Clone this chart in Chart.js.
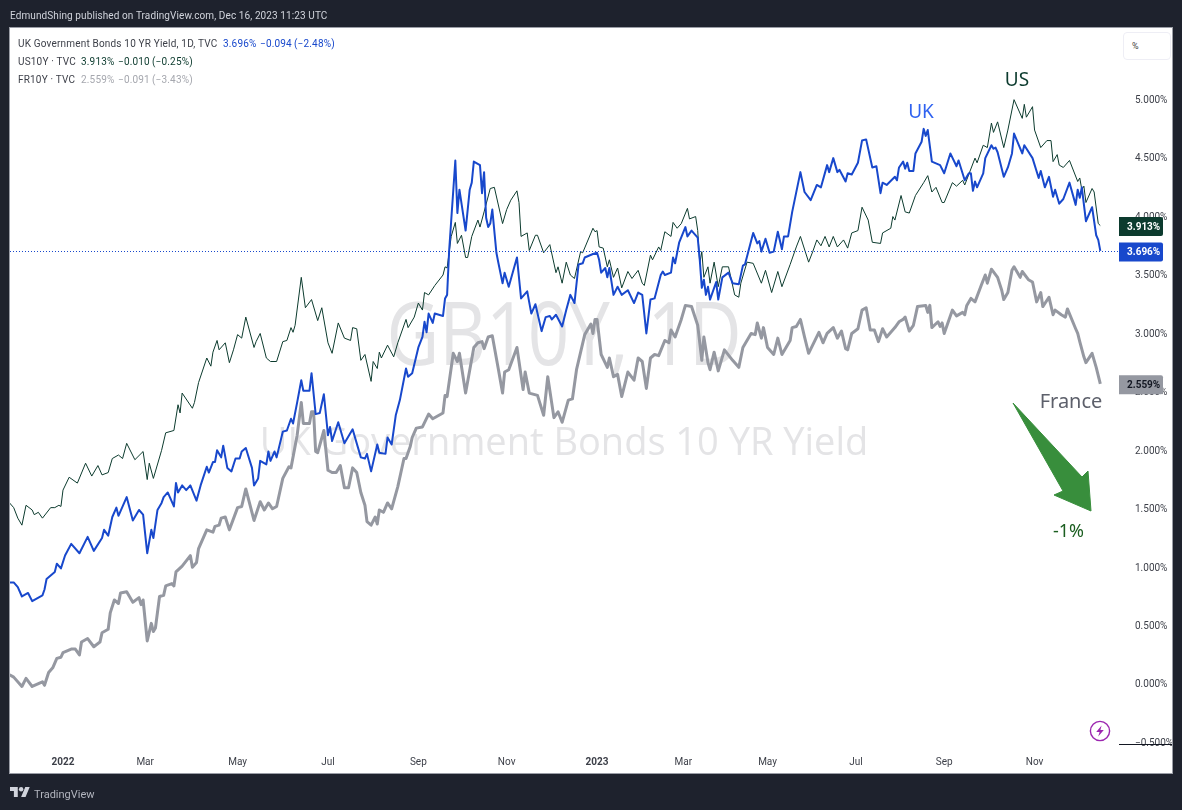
<!DOCTYPE html>
<html>
<head>
<meta charset="utf-8">
<title>UK Government Bonds 10 YR Yield</title>
<script src="https://cdn.jsdelivr.net/npm/chart.js@4"></script>
<style>
  html, body { margin: 0; padding: 0; background: #1e222d; width: 1182px; height: 810px; overflow: hidden; }
  body { position: relative; font-family: Roboto, sans-serif; }
  #panel { position: absolute; left: 9px; top: 27px; width: 1162px; height: 745px; background: #fff; border: 1px solid #9a9da6; }
  #chart { position: absolute; left: 0; top: 0; }
  .txt { position: absolute; white-space: pre; font-size: 10px; line-height: 12px; letter-spacing: 0.18px; }
  .txt span { position: absolute; top: 0; }
  #pct { position: absolute; left: 1123px; top: 32px; width: 46px; height: 26px; border: 1px solid #eeeef5; border-radius: 4px; background: #fff; font-size: 9px; line-height: 26px; color: #444; text-indent: 8px; }
</style>
</head>
<body>
<div id="panel"></div>
<canvas id="chart" width="1182" height="810"></canvas>
<div class="txt" style="left:10px;top:10px;color:#d1d4dc;letter-spacing:0.1px">EdmundShing published on TradingView.com, Dec 16, 2023 11:23 UTC</div>
<div class="txt" style="left:18px;top:38px;color:#3c3f48">UK Government Bonds 10 YR Yield, 1D, TVC<span style="left:205px;color:#1848cc">3.696%</span><span style="left:242px;color:#1848cc">−0.094</span><span style="left:276px;color:#1848cc">(−2.48%)</span></div>
<div class="txt" style="left:18px;top:56px;color:#3c3f48">US10Y · TVC<span style="left:63px;color:#0c3b2e">3.913%</span><span style="left:100px;color:#0c3b2e">−0.010</span><span style="left:134px;color:#0c3b2e">(−0.25%)</span></div>
<div class="txt" style="left:18px;top:74px;color:#3c3f48">FR10Y · TVC<span style="left:63px;color:#a5a7ae">2.559%</span><span style="left:100px;color:#a5a7ae">−0.091</span><span style="left:134px;color:#a5a7ae">(−3.43%)</span></div>
<div id="pct">%</div>
<svg style="position:absolute;left:1089px;top:720px" width="22" height="22" viewBox="0 0 22 22">
  <circle cx="11" cy="11" r="9.6" fill="none" stroke="#9c27b0" stroke-width="1.4"/>
  <path d="M12.6 5.5 L7.2 12 H10.6 L9.2 16.5 L14.8 10 H11.4 Z" fill="#9c27b0"/>
</svg>
<svg style="position:absolute;left:10px;top:786px" width="20" height="12" viewBox="0 3 36 20">
  <path d="M14 22H7V11H0V4h14v18zM28 22h-8l7.5-18h8L28 22z" fill="#d1d4dc"/>
  <circle cx="20" cy="8" r="4" fill="#d1d4dc"/>
</svg>
<div class="txt" style="left:34px;top:789px;color:#b2b5be;font-size:11px;letter-spacing:0">TradingView</div>
<script>
// x is the trading day counted from the first session of 2022
var tickBars = [0, 40, 85, 129, 173, 216, 260, 302, 343, 386, 429, 473];
var tickLabels = ['2022', 'Mar', 'May', 'Jul', 'Sep', 'Nov', '2023', 'Mar', 'May', 'Jul', 'Sep', 'Nov'];
var yTicks = [-0.5, 0, 0.5, 1, 1.5, 2, 2.5, 3, 3.5, 4, 4.5, 5];

var usBars = [-26,-24,-22,-20,-18,-15,-14,-12,-10,-6,-4,-2,-1,0,3,7,11,14,17,19,22,24,27,29,31,35,39,41,42,44,48,50,54,56,57,58,63,64,66,70,72,73,75,76,79,81,83,85,87,89,93,94,96,99,101,104,107,109,111,112,113,116,118,121,124,126,129,131,134,137,140,141,143,145,147,150,151,153,154,155,158,161,163,167,168,171,173,175,176,178,181,185,186,187,189,191,192,194,196,197,199,202,203,205,208,210,214,216,218,221,222,223,226,227,230,231,234,237,240,241,243,245,247,249,252,253,258,259,260,261,263,265,266,268,270,272,275,277,280,282,283,286,287,290,291,293,296,297,299,301,304,305,308,309,310,311,312,314,315,317,319,321,324,327,329,330,333,336,340,342,345,348,350,354,357,359,363,365,367,369,371,373,375,377,380,382,384,387,389,392,394,398,399,403,404,405,408,410,412,415,419,421,423,425,428,429,433,435,438,439,444,445,448,450,452,453,455,458,460,463,467,468,469,472,473,476,479,481,482,484,485,487,490,494,495,496,497,498,501,502,504,505];
var usYields = [1.54,1.50,1.41,1.35,1.52,1.48,1.44,1.46,1.41,1.50,1.50,1.52,1.51,1.65,1.76,1.71,1.88,1.77,1.86,1.78,1.80,1.92,1.95,1.92,2.05,1.91,1.98,1.74,1.88,1.75,1.99,2.14,2.16,2.38,2.31,2.48,2.35,2.40,2.57,2.78,2.71,2.83,2.93,2.85,2.91,2.74,2.85,2.98,2.95,3.13,2.87,2.92,2.99,2.78,2.75,2.75,2.92,2.93,3.04,3.00,3.06,3.47,3.21,3.28,3.10,3.21,2.91,2.82,3.08,2.95,2.93,3.04,3.03,2.76,2.81,2.58,2.75,2.69,2.83,2.78,2.89,2.79,2.91,3.11,3.04,3.13,3.25,3.19,3.34,3.32,3.40,3.49,3.56,3.55,3.82,3.94,3.76,3.83,3.64,3.64,3.82,3.96,3.90,4.03,4.23,4.24,3.93,4.05,4.13,4.21,4.11,3.82,3.85,3.70,3.83,3.83,3.68,3.75,3.51,3.56,3.42,3.60,3.49,3.46,3.69,3.68,3.89,3.86,3.87,3.73,3.72,3.56,3.62,3.47,3.55,3.38,3.52,3.46,3.53,3.42,3.40,3.66,3.62,3.73,3.70,3.86,3.82,3.94,3.89,3.93,4.06,3.97,3.99,3.87,3.59,3.69,3.47,3.56,3.42,3.60,3.39,3.56,3.56,3.32,3.30,3.42,3.60,3.59,3.42,3.53,3.34,3.52,3.39,3.58,3.73,3.82,3.60,3.69,3.79,3.74,3.82,3.73,3.82,3.73,3.79,3.72,3.85,3.87,4.07,3.96,3.77,3.76,3.85,3.89,3.99,3.96,4.17,4.03,4.02,4.17,4.28,4.34,4.20,4.24,4.11,4.11,4.28,4.25,4.30,4.26,4.49,4.45,4.60,4.58,4.79,4.71,4.80,4.58,4.73,4.99,4.83,4.95,4.84,4.93,4.73,4.58,4.64,4.64,4.46,4.52,4.43,4.41,4.47,4.29,4.32,4.22,4.25,4.11,4.23,4.20,3.93,3.913];

var ukBars = [-26,-24,-22,-20,-17,-15,-10,-9,-8,-4,-3,-1,1,4,8,12,15,19,20,22,24,26,27,31,34,37,39,41,43,44,46,48,49,51,54,55,56,58,60,62,65,67,70,71,73,74,75,77,78,80,82,84,86,87,89,92,93,95,96,99,100,101,103,104,107,109,111,112,114,116,117,120,121,123,125,127,129,130,131,134,137,141,145,147,148,150,153,154,157,158,160,162,164,167,168,170,173,175,176,177,178,180,181,185,186,187,188,191,192,193,196,198,199,200,203,204,205,206,207,208,209,211,212,214,215,217,221,223,226,228,230,233,235,237,238,240,243,245,247,249,251,253,254,258,260,261,262,264,265,266,268,270,272,275,278,280,282,284,286,288,291,292,293,296,297,298,300,303,304,306,309,310,311,312,313,314,315,318,319,321,324,326,329,331,332,336,338,339,340,342,344,346,348,350,351,353,355,359,361,364,367,369,372,373,375,377,378,381,382,384,387,389,391,394,396,398,399,401,405,406,407,409,410,411,412,414,415,418,419,420,421,423,427,429,432,435,436,439,441,442,443,444,445,448,449,452,453,454,455,458,460,462,463,467,468,472,475,476,478,480,482,483,485,487,490,493,494,495,496,498,501,503,504,505];
var ukYields = [0.86,0.86,0.82,0.74,0.77,0.70,0.75,0.80,0.89,0.95,1.02,0.98,1.09,1.19,1.11,1.25,1.13,1.24,1.31,1.26,1.42,1.50,1.43,1.59,1.39,1.48,1.44,1.11,1.31,1.24,1.48,1.54,1.59,1.63,1.51,1.71,1.63,1.69,1.65,1.69,1.56,1.69,1.85,1.80,1.89,1.89,1.99,1.93,2.03,1.84,1.81,1.92,1.92,1.98,2.01,1.84,1.69,1.75,1.90,1.87,1.98,1.90,1.98,1.93,2.15,2.16,2.26,2.22,2.40,2.59,2.50,2.50,2.65,2.30,2.31,2.47,2.12,2.19,2.07,2.23,2.05,2.17,1.93,1.92,1.96,1.81,2.04,1.97,1.96,2.10,2.04,2.29,2.42,2.69,2.62,2.65,2.87,2.96,3.09,3.00,3.16,3.08,3.16,3.14,3.29,3.32,3.70,4.47,4.02,4.22,3.87,4.22,4.28,4.46,4.43,4.19,4.37,3.98,3.90,3.93,4.05,3.68,3.59,3.42,3.51,3.39,3.64,3.29,3.35,3.16,3.24,3.01,3.13,3.14,3.11,3.15,3.05,3.19,3.32,3.25,3.58,3.59,3.64,3.67,3.68,3.62,3.51,3.55,3.47,3.55,3.32,3.39,3.32,3.36,3.25,3.34,3.32,2.99,3.28,3.29,3.49,3.52,3.49,3.51,3.64,3.59,3.77,3.90,3.82,3.87,3.81,3.62,3.38,3.45,3.32,3.39,3.28,3.43,3.28,3.47,3.51,3.42,3.41,3.57,3.58,3.85,3.76,3.78,3.69,3.80,3.68,3.69,3.86,3.71,3.82,3.82,4.03,4.37,4.20,4.13,4.26,4.24,4.43,4.37,4.49,4.37,4.39,4.29,4.36,4.35,4.45,4.64,4.65,4.41,4.42,4.19,4.28,4.26,4.33,4.30,4.41,4.46,4.40,4.45,4.38,4.38,4.53,4.63,4.74,4.68,4.73,4.46,4.43,4.36,4.53,4.42,4.47,4.30,4.36,4.36,4.21,4.29,4.24,4.36,4.49,4.60,4.57,4.58,4.54,4.33,4.41,4.53,4.70,4.53,4.60,4.49,4.32,4.38,4.24,4.33,4.16,4.22,4.10,4.14,4.28,4.09,4.22,4.15,4.24,3.95,4.07,3.83,3.79,3.696];

var frBars = [-26,-24,-20,-18,-15,-10,-9,-7,-5,-3,-1,0,4,6,8,9,12,15,18,19,22,23,25,27,28,31,34,37,38,39,41,43,44,45,47,49,50,53,54,55,58,62,63,65,66,70,73,74,76,77,79,81,85,87,89,93,96,98,100,102,104,107,110,111,114,116,117,120,121,122,123,124,127,129,131,133,135,137,139,141,143,145,147,148,150,152,153,154,156,158,160,163,166,167,169,170,172,175,178,180,185,186,187,190,192,193,196,200,202,204,205,207,209,212,214,215,217,221,224,225,227,231,234,236,239,241,243,246,248,250,254,257,258,259,260,262,265,266,268,270,272,275,278,280,282,284,286,288,290,293,295,296,298,301,303,306,309,311,312,314,315,317,319,322,326,329,331,335,337,338,340,341,343,346,348,350,354,355,357,359,361,363,368,370,372,375,377,379,381,382,384,387,389,391,393,395,397,399,401,405,407,409,410,412,414,416,420,421,422,423,426,427,428,429,433,435,438,439,440,442,444,447,449,450,452,455,457,458,460,462,463,466,467,470,472,474,476,477,480,482,483,486,488,489,493,494,495,497,498,501,503,505];
var frYields = [0.07,0.05,-0.03,0.04,-0.03,0.01,-0.02,0.09,0.13,0.21,0.22,0.26,0.29,0.29,0.24,0.35,0.38,0.31,0.35,0.43,0.46,0.60,0.71,0.68,0.77,0.78,0.69,0.73,0.67,0.71,0.36,0.51,0.44,0.47,0.74,0.75,0.83,0.85,0.83,0.95,1.00,1.09,0.99,1.03,1.15,1.31,1.29,1.34,1.35,1.41,1.42,1.31,1.50,1.51,1.66,1.39,1.55,1.48,1.54,1.49,1.51,1.75,1.85,1.84,2.12,2.40,2.22,2.22,2.32,2.32,1.98,1.97,2.16,1.82,1.80,1.80,1.86,1.67,1.67,1.84,1.80,1.63,1.52,1.38,1.35,1.42,1.36,1.48,1.46,1.54,1.49,1.68,1.92,1.92,2.02,2.10,2.18,2.19,2.30,2.26,2.31,2.46,2.45,2.82,2.75,2.82,2.48,2.87,2.91,2.92,2.86,2.96,2.97,2.68,2.48,2.66,2.68,2.87,2.51,2.66,2.48,2.46,2.29,2.62,2.27,2.32,2.23,2.42,2.43,2.68,2.98,3.07,2.99,3.11,3.11,2.81,2.70,2.78,2.62,2.64,2.45,2.66,2.59,2.78,2.75,2.52,2.78,2.81,2.80,2.93,2.91,3.02,2.96,3.11,3.23,3.22,3.06,2.76,2.96,2.74,2.68,2.83,2.67,2.85,2.76,2.70,2.87,2.99,2.98,3.08,2.95,3.04,2.87,2.81,2.95,2.81,2.93,3.04,3.05,3.11,2.96,2.82,3.00,2.91,2.99,3.04,2.95,3.01,2.86,2.85,2.99,3.03,3.19,3.21,3.02,3.02,2.92,3.03,2.96,3.04,3.09,3.11,3.13,3.01,3.06,3.22,3.23,3.17,3.23,3.04,3.09,3.05,3.08,2.99,3.19,3.14,3.17,3.15,3.23,3.29,3.26,3.40,3.49,3.42,3.54,3.47,3.36,3.28,3.34,3.53,3.56,3.47,3.52,3.45,3.43,3.26,3.34,3.22,3.30,3.15,3.19,3.15,3.13,3.20,3.03,2.99,2.92,2.79,2.74,2.82,2.70,2.559];

var UK_COLOR = '#1848cc';
var US_COLOR = '#0c3b2e';
var FR_COLOR = '#9598a1';

function points(bars, yields) {
  return bars.map(function (b, i) { return { x: b, y: yields[i] }; });
}

function fmtPct(v) {
  return (v < 0 ? '−' : '') + Math.abs(v).toFixed(3) + '%';
}

// watermark sits behind the lines
var watermark = {
  id: 'watermark',
  beforeDatasetsDraw: function (chart) {
    var ctx = chart.ctx;
    ctx.save();
    ctx.fillStyle = '#e4e4e6';
    ctx.textAlign = 'center';
    ctx.textBaseline = 'alphabetic';
    ctx.font = '38px "Open Sans", sans-serif';
    ctx.fillText('UK Government Bonds 10 YR Yield', 564, 455);
    // the original face is narrower than anything installed
    ctx.translate(564, 365);
    ctx.scale(0.825, 1);
    ctx.font = '88px "Open Sans", sans-serif';
    ctx.fillText('GB10Y, 1D', 0, 0);
    ctx.restore();
  }
};

var overlays = {
  id: 'overlays',
  afterDraw: function (chart) {
    var ctx = chart.ctx;
    var y = chart.scales.y;
    var area = chart.chartArea;

    // last price line
    var lastY = Math.round(y.getPixelForValue(ukYields[ukYields.length - 1])) + 0.5;
    ctx.save();
    ctx.strokeStyle = UK_COLOR;
    ctx.lineWidth = 1;
    ctx.setLineDash([1, 2]);
    ctx.beginPath();
    ctx.moveTo(area.left, lastY);
    ctx.lineTo(area.right, lastY);
    ctx.stroke();
    ctx.setLineDash([]);

    // price axis bottom edge
    ctx.strokeStyle = '#131722';
    ctx.beginPath();
    ctx.moveTo(area.right, area.bottom + 0.5);
    ctx.lineTo(chart.width - 10, area.bottom + 0.5);
    ctx.stroke();

    // price tags
    [
      [usYields, US_COLOR, '#ffffff'],
      [ukYields, UK_COLOR, '#ffffff'],
      [frYields, FR_COLOR, '#131722']
    ].forEach(function (tag) {
      var v = tag[0][tag[0].length - 1];
      var py = y.getPixelForValue(v) + 1;
      ctx.fillStyle = tag[1];
      ctx.beginPath();
      ctx.roundRect(area.right, py - 9.5, 44, 19, [0, 2, 2, 0]);
      ctx.fill();
      ctx.fillStyle = tag[2];
      ctx.font = 'bold 10px Roboto, sans-serif';
      ctx.textAlign = 'left';
      ctx.textBaseline = 'middle';
      ctx.fillText(fmtPct(v), area.right + 8, py + 1);
    });

    // green arrow
    ctx.fillStyle = '#388e3c';
    ctx.strokeStyle = '#388e3c';
    ctx.lineJoin = 'round';
    ctx.beginPath();
    ctx.moveTo(1013, 403);
    ctx.lineTo(1082, 477);
    ctx.lineTo(1088, 471);
    ctx.lineTo(1091, 511);
    ctx.lineTo(1054, 495);
    ctx.lineTo(1063, 491);
    ctx.closePath();
    ctx.fill();
    ctx.stroke();

    // hand written labels
    ctx.textAlign = 'center';
    ctx.textBaseline = 'alphabetic';
    ctx.font = '19px "Noto Sans", sans-serif';
    ctx.fillStyle = US_COLOR;
    ctx.fillText('US', 1017, 86);
    ctx.fillStyle = '#2f62f0';
    ctx.fillText('UK', 921, 118);
    ctx.fillStyle = '#5d606b';
    ctx.font = '20px "Noto Sans", sans-serif';
    ctx.fillText('France', 1071, 408);
    ctx.fillStyle = '#1b5e20';
    ctx.font = '18px "Noto Sans", sans-serif';
    ctx.fillText('-1%', 1068.5, 537);
    ctx.restore();
  }
};

new Chart(document.getElementById('chart'), {
  type: 'line',
  data: {
    datasets: [
      { label: 'FR10Y', data: points(frBars, frYields), borderColor: FR_COLOR, borderWidth: 3, order: 3 },
      { label: 'US10Y', data: points(usBars, usYields), borderColor: US_COLOR, borderWidth: 1, order: 2 },
      { label: 'GB10Y', data: points(ukBars, ukYields), borderColor: UK_COLOR, borderWidth: 2, order: 1 }
    ]
  },
  options: {
    responsive: false,
    animation: false,
    layout: { padding: { left: 10, top: 28, right: 10, bottom: 37 } },
    elements: { point: { radius: 0 }, line: { tension: 0, borderJoinStyle: 'round' } },
    plugins: { legend: { display: false }, tooltip: { enabled: false } },
    scales: {
      x: {
        type: 'linear',
        min: -25.8,
        max: 514.1,
        grid: { display: false },
        border: { display: false },
        afterFit: function (scale) { scale.height = 29; },
        afterBuildTicks: function (scale) {
          scale.ticks = tickBars.map(function (b) { return { value: b }; });
        },
        ticks: {
          autoSkip: false,
          maxRotation: 0,
          padding: 4,
          color: '#3c3f48',
          font: function (c) {
            var major = c.tick && (c.tick.value === 0 || c.tick.value === 260);
            return { family: 'Roboto, sans-serif', size: 10, weight: major ? 'bold' : 'normal' };
          },
          callback: function (v) { return tickLabels[tickBars.indexOf(v)]; }
        }
      },
      y: {
        position: 'right',
        min: -0.522,
        max: 5.603,
        grid: { display: false },
        border: { display: false },
        afterFit: function (scale) { scale.width = 53; },
        afterBuildTicks: function (scale) {
          scale.ticks = yTicks.map(function (v) { return { value: v }; });
        },
        ticks: {
          padding: 8,
          labelOffset: 2,
          color: '#3c3f48',
          font: { family: 'Roboto, sans-serif', size: 10 },
          callback: function (v) { return fmtPct(v); }
        }
      }
    }
  },
  plugins: [watermark, overlays]
});
</script>
</body>
</html>
